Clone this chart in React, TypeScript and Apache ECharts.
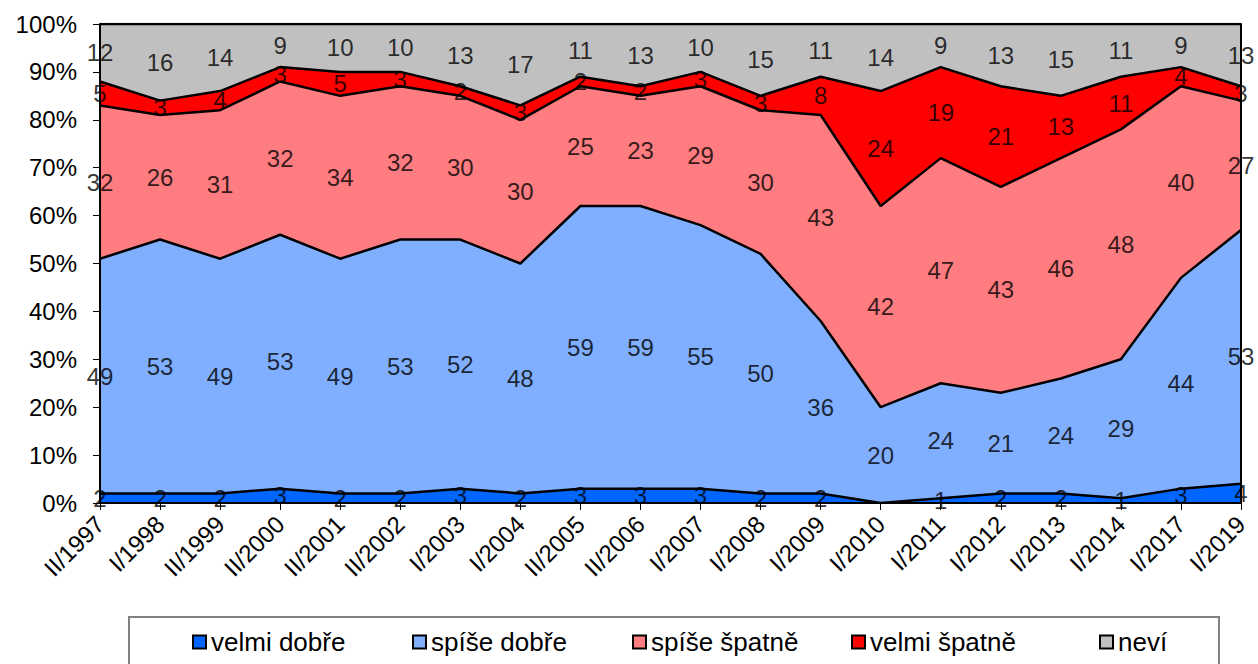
import React, { useEffect, useRef } from "react";
import * as echarts from "echarts";

const categories = ["II/1997", "I/1998", "II/1999", "II/2000", "II/2001", "II/2002", "I/2003", "I/2004", "II/2005", "II/2006", "I/2007", "I/2008", "I/2009", "I/2010", "I/2011", "I/2012", "I/2013", "I/2014", "I/2017", "I/2019"];

const velmiDobre = [2, 2, 2, 3, 2, 2, 3, 2, 3, 3, 3, 2, 2, 0, 1, 2, 2, 1, 3, 4];
const spiseDobre = [49, 53, 49, 53, 49, 53, 52, 48, 59, 59, 55, 50, 36, 20, 24, 21, 24, 29, 44, 53];
const spiseSpatne = [32, 26, 31, 32, 34, 32, 30, 30, 25, 23, 29, 30, 43, 42, 47, 43, 46, 48, 40, 27];
const velmiSpatne = [5, 3, 4, 3, 5, 3, 2, 3, 2, 2, 3, 3, 8, 24, 19, 21, 13, 11, 4, 3];
const nevi = [12, 16, 14, 9, 10, 10, 13, 17, 11, 13, 10, 15, 11, 14, 9, 13, 15, 11, 9, 13];

const seriesNames = ["velmi dobře", "spíše dobře", "spíše špatně", "velmi špatně", "neví"];
const seriesValues = [velmiDobre, spiseDobre, spiseSpatne, velmiSpatne, nevi];
const seriesColors = ["#0066FF", "#80AFFF", "#FF7C80", "#FF0000", "#C0C0C0"];
const yTicks = [0, 10, 20, 30, 40, 50, 60, 70, 80, 90, 100];

const FONT = '"Liberation Sans", Arial, sans-serif';
const legendLeft = [192, 412, 632, 851, 1099];

export default function App() {
  const ref = useRef<HTMLDivElement>(null);
  useEffect(() => {
    if (!ref.current) return;
    const chart = echarts.init(ref.current, null, { renderer: "svg" });

    const areaSeries = seriesNames.map((name, i) => ({
      name,
      type: "line",
      stack: "total",
      data: seriesValues[i],
      showSymbol: false,
      symbol: "none",
      lineStyle: { color: "#000", width: 2.5 },
      itemStyle: { color: seriesColors[i] },
      areaStyle: { color: seriesColors[i], opacity: 1 },
      z: 2,
    }));

    const labelSeries = seriesValues.map((vals, si) => {
      const mids = vals.map((v, idx) => {
        let below = 0;
        for (let k = 0; k < si; k++) below += seriesValues[k][idx];
        return below + v / 2;
      });
      return {
        name: "lbl" + si,
        type: "scatter",
        data: mids,
        symbolSize: 1,
        itemStyle: { color: "rgba(0,0,0,0)" },
        z: 5,
        silent: true,
        label: {
          show: true,
          position: "inside",
          color: "#000",
          fontFamily: FONT,
          fontSize: 24,
          formatter: (p: any) => (vals[p.dataIndex] > 0 ? String(vals[p.dataIndex]) : ""),
        },
      };
    });

    const legends = seriesNames.map((n, i) => ({
      data: [n],
      left: legendLeft[i],
      top: 629,
      icon: "rect",
      itemWidth: 13,
      itemHeight: 13,
      itemStyle: { borderColor: "#000", borderWidth: 2 },
      textStyle: { fontFamily: FONT, fontSize: 26, color: "#000", padding: [0, 0, 0, 0] },
      padding: 0,
    }));

    chart.setOption({
      animation: false,
      backgroundColor: "#fff",
      textStyle: { fontFamily: FONT },
      grid: { left: 100, right: 17, top: 24, bottom: 161, containLabel: false },
      legend: legends,
      xAxis: {
        type: "category",
        data: categories,
        boundaryGap: false,
        z: 10,
        axisLine: { show: true, lineStyle: { color: "#000", width: 2 } },
        axisTick: { show: true, alignWithLabel: true, length: 7, lineStyle: { color: "#000", width: 1 } },
        axisLabel: { rotate: 45, interval: 0, margin: 17, fontSize: 24, color: "#000", fontFamily: FONT },
        splitLine: { show: false },
      },
      yAxis: [
        {
          type: "value",
          min: yTicks[0],
          max: yTicks[yTicks.length - 1],
          interval: 10,
          z: 10,
          axisLine: { show: true, lineStyle: { color: "#000", width: 2 } },
          axisTick: { show: true, length: 7, lineStyle: { color: "#000", width: 1 } },
          axisLabel: { formatter: "{value}%", margin: 23, fontSize: 24, color: "#000", fontFamily: FONT },
          splitLine: { show: false },
        },
        {
          type: "value",
          position: "right",
          min: 0,
          max: 100,
          interval: 10,
          z: 10,
          axisLine: { show: true, lineStyle: { color: "#000", width: 2 } },
          axisTick: { show: false },
          axisLabel: { show: false },
          splitLine: { show: false },
        },
      ],
      graphic: [
        {
          type: "rect",
          shape: { x: 129, y: 617, width: 1090, height: 60 },
          style: { fill: "none", stroke: "#808080", lineWidth: 2 },
          z: -1,
        },
      ],
      series: [...areaSeries, ...labelSeries],
    });
    return () => chart.dispose();
  }, []);
  return <div ref={ref} style={{ position: "fixed", left: 0, top: 0, width: 1258, height: 664 }} />;
}
